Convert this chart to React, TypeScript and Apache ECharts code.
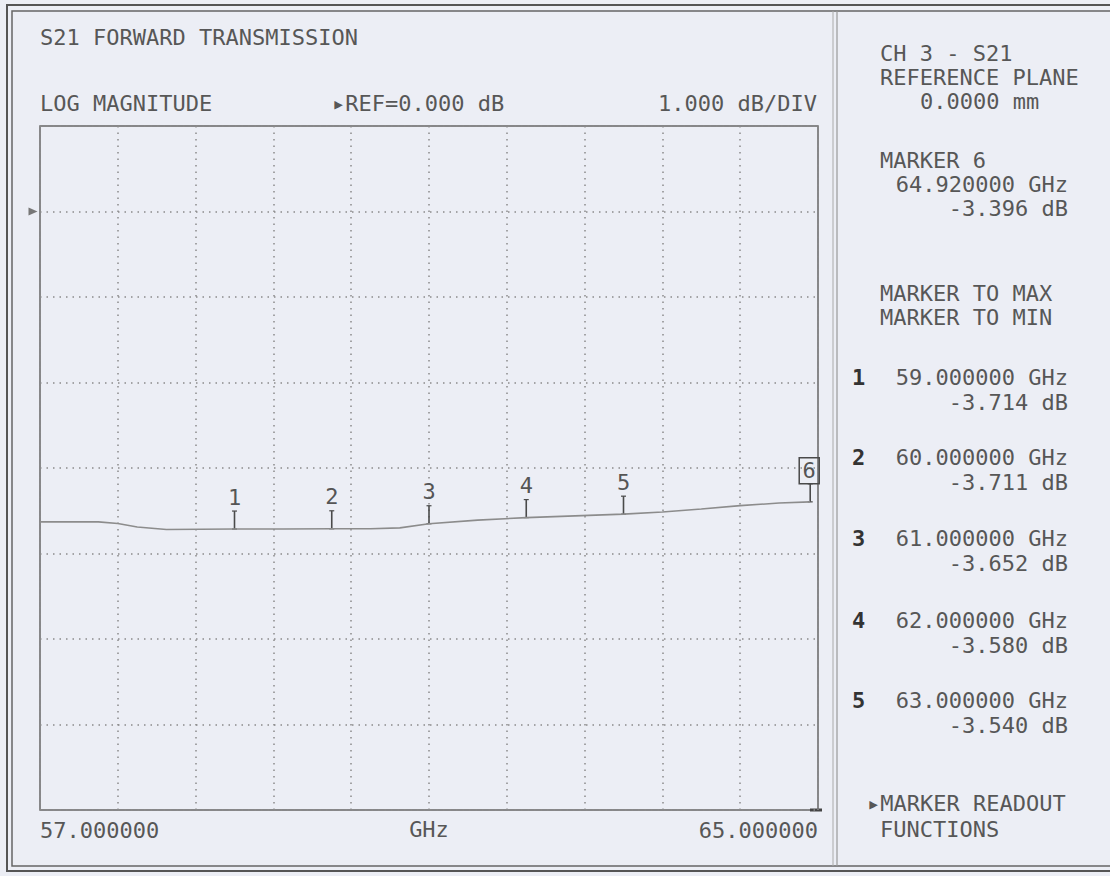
import React, { useEffect, useRef } from "react";
import * as echarts from "echarts";

// Trace data (S21 log magnitude)
const freqGHz = [57.0, 57.6, 57.8, 58.0, 58.3, 59.0, 59.5, 60.0, 60.4, 60.7, 61.0, 61.5, 62.0, 62.5, 63.0, 63.4, 63.8, 64.2, 64.6, 64.92];
const s21dB = [-3.63, -3.63, -3.65, -3.69, -3.72, -3.714, -3.713, -3.711, -3.71, -3.70, -3.652, -3.61, -3.58, -3.56, -3.54, -3.515, -3.48, -3.44, -3.41, -3.396];

// Markers
const markerLabels = ["1", "2", "3", "4", "5", "6"];
const markerFreq = [59.0, 60.0, 61.0, 62.0, 63.0, 64.92];
const markerDb = [-3.714, -3.711, -3.652, -3.58, -3.54, -3.396];

// Axis settings
const xStart = 57;
const xStop = 65;
const refDb = 0;
const dbPerDiv = 1;
const yTop = 1;
const yBottom = -7;

const FONT = '"DejaVu Sans Mono", "Liberation Mono", monospace';
const TXT = "#575757";

const fmtFreq = (f: number) => f.toFixed(6);
const fmtDb = (d: number) => d.toFixed(3);

export default function App() {
  const ref = useRef<HTMLDivElement>(null);
  useEffect(() => {
    if (!ref.current) return;
    const chart = echarts.init(ref.current, null, { renderer: "svg" });

    const txt = (text: string, x: number, y: number, align = "left", extra: any = {}) => ({
      type: "text",
      x,
      y,
      style: { text, font: `22px ${FONT}`, fill: TXT, align, verticalAlign: "middle", ...extra },
      silent: true,
    });

    const panel: any[] = [
      txt("CH 3 - S21", 880, 53),
      txt("REFERENCE PLANE", 880, 77),
      txt("0.0000 mm", 920, 101),
      txt("MARKER 6", 880, 160),
      txt(`${fmtFreq(markerFreq[5])} GHz`, 1068, 184, "right"),
      txt(`${fmtDb(markerDb[5])} dB`, 1068, 208, "right"),
      txt("MARKER TO MAX", 880, 293),
      txt("MARKER TO MIN", 880, 317),
      txt("▸MARKER READOUT", 867, 803),
      txt("FUNCTIONS", 880, 829),
    ];
    const rowY = [377, 457, 538, 620, 700];
    for (let i = 0; i < 5; i++) {
      panel.push(txt(markerLabels[i], 852, rowY[i], "left", { fill: "#333", font: `bold 22px ${FONT}` }));
      panel.push(txt(`${fmtFreq(markerFreq[i])} GHz`, 1068, rowY[i], "right"));
      panel.push(txt(`${fmtDb(markerDb[i])} dB`, 1068, rowY[i] + 25, "right"));
    }

    const option: any = {
      animation: false,
      backgroundColor: "#eceef5",
      grid: {
        left: 40,
        top: 126,
        width: 778,
        height: 684,
        show: true,
        borderColor: "#666",
        borderWidth: 1.5,
        backgroundColor: "transparent",
      },
      xAxis: [
        {
          type: "value",
          min: xStart,
          max: xStop,
          name: "GHz",
          nameLocation: "middle",
          nameGap: 19,
          nameMoveOverlap: false,
          nameTextStyle: { fontFamily: FONT, fontSize: 22, color: TXT, verticalAlign: "middle" },
          axisLine: { show: false },
          axisTick: { show: false },
          splitLine: { show: false },
          axisLabel: {
            show: true,
            showMinLabel: true,
            showMaxLabel: true,
            alignMinLabel: "left",
            alignMaxLabel: "right",
            margin: 9,
            fontFamily: FONT,
            fontSize: 22,
            color: TXT,
            formatter: (v: number) => (v === xStart || v === xStop ? fmtFreq(v) : ""),
          },
        },
        {
          type: "value",
          position: "top",
          min: 0,
          max: 10,
          interval: 1,
          axisLine: { show: false },
          axisTick: { show: false },
          axisLabel: { show: false },
          splitLine: { show: true, lineStyle: { color: "#8a8a8a", width: 1.5, type: [1.5, 5] } },
        },
      ],
      yAxis: {
        type: "value",
        min: yBottom,
        max: yTop,
        interval: dbPerDiv,
        axisLine: { show: false },
        axisTick: { show: false },
        axisLabel: { show: false },
        splitLine: { show: true, lineStyle: { color: "#8a8a8a", width: 1.5, type: [1.5, 5] } },
      },
      series: [
        {
          type: "line",
          xAxisIndex: 0,
          data: freqGHz.map((f, i) => [f, s21dB[i]]),
          showSymbol: false,
          smooth: false,
          lineStyle: { color: "#8c8c8c", width: 1.6 },
          markPoint: {
            symbol: "triangle",
            symbolSize: [8, 9],
            symbolRotate: -90,
            symbolOffset: [-7, 0],
            itemStyle: { color: "#777" },
            label: { show: false },
            data: [{ coord: [xStart, refDb] }],
          },
        },
        {
          type: "custom",
          xAxisIndex: 0,
          data: markerFreq.map((f, i) => [f, markerDb[i]]),
          renderItem: (params: any, api: any) => {
            const p = api.coord([api.value(0), api.value(1)]);
            const label = markerLabels[params.dataIndex];
            const stroke = "#4a4a4a";
            const children: any[] = [
              { type: "line", shape: { x1: p[0], y1: p[1] - 18, x2: p[0], y2: p[1] }, style: { stroke, lineWidth: 1.6 } },
              { type: "line", shape: { x1: p[0] - 2.5, y1: p[1] - 18, x2: p[0] + 2.5, y2: p[1] - 18 }, style: { stroke, lineWidth: 1.2 } },
              { type: "line", shape: { x1: p[0] - 2.5, y1: p[1], x2: p[0] + 2.5, y2: p[1] }, style: { stroke, lineWidth: 1.2 } },
            ];
            if (label === "6") {
              children.push({
                type: "rect",
                shape: { x: p[0] - 11, y: p[1] - 44, width: 20, height: 26 },
                style: { fill: "none", stroke, lineWidth: 1.5 },
              });
              children.push({
                type: "text",
                style: { text: label, x: p[0] - 1, y: p[1] - 31, align: "center", verticalAlign: "middle", font: `22px ${FONT}`, fill: "#555" },
              });
            } else {
              children.push({
                type: "text",
                style: { text: label, x: p[0], y: p[1] - 32, align: "center", verticalAlign: "middle", font: `22px ${FONT}`, fill: "#555" },
              });
            }
            return { type: "group", children };
          },
        },
      ],
      graphic: [
        // outer double frame
        { type: "rect", shape: { x: 7, y: 5, width: 1120, height: 866 }, style: { fill: "none", stroke: "#555", lineWidth: 2 }, silent: true },
        { type: "rect", shape: { x: 12, y: 11, width: 1110, height: 855 }, style: { fill: "none", stroke: "#666", lineWidth: 1.5 }, silent: true },
        // panel divider
        { type: "line", shape: { x1: 833, y1: 11, x2: 833, y2: 866 }, style: { stroke: "#aaa", lineWidth: 1 }, silent: true },
        { type: "line", shape: { x1: 837, y1: 11, x2: 837, y2: 866 }, style: { stroke: "#999", lineWidth: 1.2 }, silent: true },
        // small end mark at plot corner
        { type: "line", shape: { x1: 810, y1: 810, x2: 822, y2: 810 }, style: { stroke: "#444", lineWidth: 3 }, silent: true },
        txt("S21 FORWARD TRANSMISSION", 40, 37),
        txt("LOG MAGNITUDE", 40, 103),
        txt(`▸REF=${refDb.toFixed(3)} dB`, 332, 103),
        txt(`${dbPerDiv.toFixed(3)} dB/DIV`, 817, 103, "right"),
        ...panel,
      ],
    };
    chart.setOption(option);
    return () => chart.dispose();
  }, []);
  return <div ref={ref} style={{ position: "fixed", left: 0, top: 0, width: 1110, height: 876 }} />;
}
